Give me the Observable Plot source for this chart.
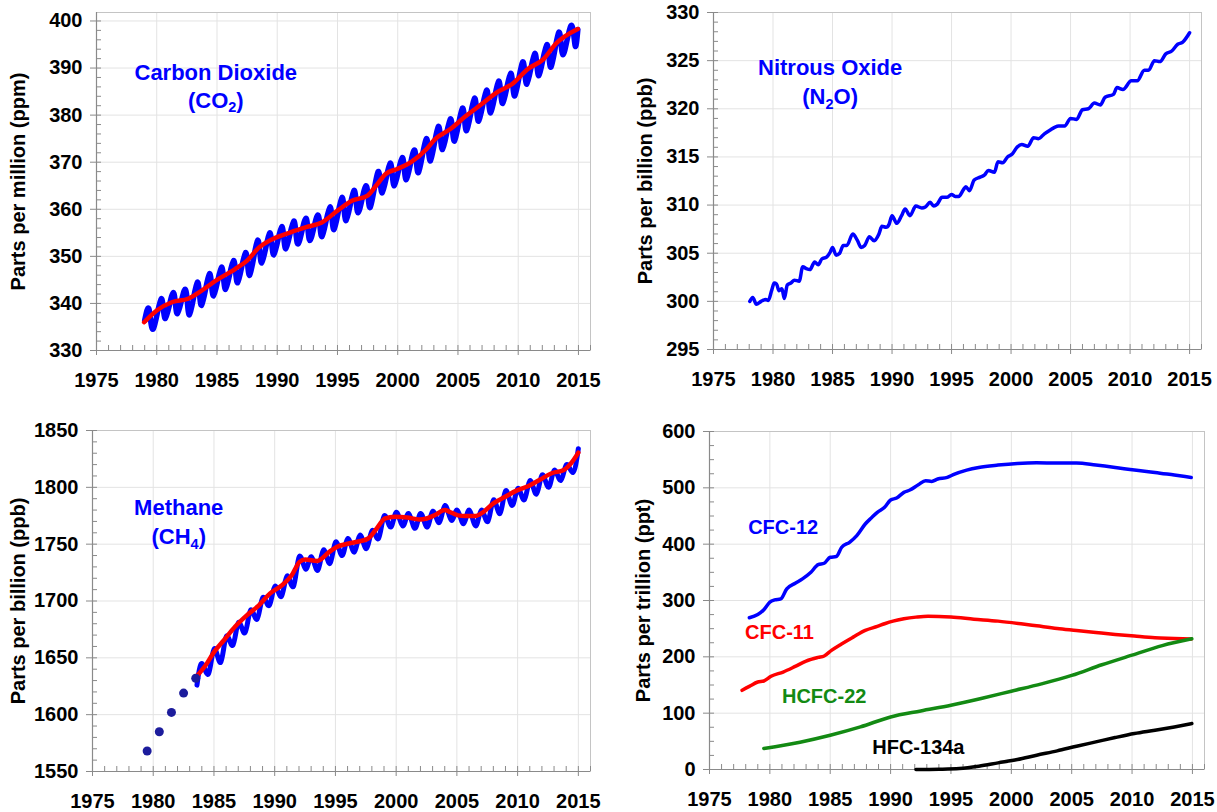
<!DOCTYPE html>
<html><head><meta charset="utf-8">
<script src="https://cdn.jsdelivr.net/npm/d3@7"></script>
<script src="https://cdn.jsdelivr.net/npm/@observablehq/plot@0.6"></script>
<style>
body{margin:0;background:#fff;}
#wrap{position:relative;width:1217px;height:812px;overflow:hidden;background:#fff;}
#wrap svg{position:absolute;overflow:visible;}
</style></head><body><div id="wrap"></div>
<script>
// ---------- shared axis ticks ----------
const yearTicks = [1975, 1980, 1985, 1990, 1995, 2000, 2005, 2010, 2015];
const yearMinor = [1975,1976,1977,1978,1979,1980,1981,1982,1983,1984,1985,1986,1987,1988,1989,1990,1991,1992,1993,1994,1995,1996,1997,1998,1999,2000,2001,2002,2003,2004,2005,2006,2007,2008,2009,2010,2011,2012,2013,2014,2015,2016];

// ---------- CO2 (ppm) ----------
const co2Ticks = [330, 340, 350, 360, 370, 380, 390, 400];
const co2Minor = [330,332,334,336,338,340,342,344,346,348,350,352,354,356,358,360,362,364,366,368,370,372,374,376,378,380,382,384,386,388,390,392,394,396,398,400];
const co2Years = [1979,1980,1981,1982,1983,1984,1985,1986,1987,1988,1989,1990,1991,1992,1993,1994,1995,1996,1997,1998,1999,2000,2001,2002,2003,2004,2005,2006,2007,2008,2009,2010,2011,2012,2013,2014];
const co2Peak = [338.7,341.0,342.3,343.0,344.5,346.3,347.7,349.1,350.8,353.4,355.0,356.3,357.5,358.1,358.8,360.5,362.5,364.0,365.0,368.0,369.8,371.0,372.6,375.0,377.6,379.2,381.5,383.6,385.3,387.2,388.9,391.3,393.1,395.0,397.6,399.0];
const co2Trough = [334.6,336.8,337.8,337.6,339.6,341.6,343.0,344.4,346.0,348.6,350.3,351.6,352.6,353.4,354.2,355.7,357.6,359.3,360.4,363.5,365.0,366.3,367.8,370.3,372.7,374.5,376.7,378.7,380.5,382.5,384.1,386.6,388.4,390.2,392.8,394.8];
const co2Start = [1979.0, 336.4];
const co2End = [2014.95, 398.2];
const co2TrendT = [1978.95,1980.0,1981.3,1982.6,1983.3,1985.0,1986.5,1987.5,1988.5,1989.4,1991.1,1992.4,1993.7,1995.0,1996.2,1997.5,1998.2,1999.0,2000.0,2001.1,2002.4,2003.1,2004.4,2005.7,2007.0,2008.2,2009.5,2010.8,2012.1,2013.1,2014.95];
const co2TrendV = [336.0,338.5,340.3,341.0,342.0,345.0,347.3,349.1,351.9,353.4,355.1,356.2,357.2,359.7,361.8,362.9,365.0,367.5,368.6,370.0,372.8,374.9,377.1,379.9,382.4,384.8,386.6,389.8,391.9,395.1,398.3];

// ---------- N2O (ppb) ----------
const n2oTicks = [295, 300, 305, 310, 315, 320, 325, 330];
const n2oMinor = [295,296,297,298,299,300,301,302,303,304,305,306,307,308,309,310,311,312,313,314,315,316,317,318,319,320,321,322,323,324,325,326,327,328,329,330];
const n2oT = [1978.05,1978.3,1978.6,1979.0,1979.4,1979.6,1979.9,1980.1,1980.3,1980.5,1980.75,1980.95,1981.2,1981.5,1981.8,1982.2,1982.5,1982.8,1983.1,1983.5,1983.8,1984.1,1984.5,1984.8,1985.0,1985.3,1985.6,1985.9,1986.2,1986.7,1987.1,1987.4,1987.7,1988.1,1988.5,1988.9,1989.15,1989.5,1989.75,1990.0,1990.4,1990.8,1991.1,1991.5,1992.0,1992.5,1992.8,1993.2,1993.5,1993.8,1994.2,1994.6,1995.0,1995.3,1995.6,1996.0,1996.2,1996.5,1996.9,1997.4,1997.75,1998.1,1998.6,1998.9,1999.3,1999.7,2000.1,2000.5,2000.9,2001.4,2001.9,2002.3,2002.8,2003.3,2003.7,2004.0,2004.5,2005.0,2005.5,2006.0,2006.5,2007.0,2007.5,2007.9,2008.6,2008.9,2009.4,2010.1,2010.6,2011.2,2011.55,2012.05,2012.5,2013.0,2013.5,2014.0,2014.4,2015.0];
const n2oV = [300.0,300.4,299.7,300.0,300.2,300.1,301.2,301.9,301.8,301.1,301.3,300.3,301.7,301.9,302.2,302.1,303.6,303.4,303.3,304.1,303.8,304.4,304.6,305.1,305.6,304.8,305.0,305.8,305.8,307.0,306.3,305.6,305.8,306.7,306.3,307.0,307.8,307.7,308.0,308.9,308.1,308.9,309.6,308.9,309.9,309.7,309.8,310.3,309.9,310.1,310.8,310.8,311.1,310.9,310.9,311.6,311.9,311.5,312.6,312.9,313.1,313.6,313.4,314.5,314.4,315.0,315.3,316.0,316.3,316.1,317.0,316.9,317.4,317.8,318.1,318.2,318.2,319.0,318.9,319.9,320.0,320.6,320.4,321.2,321.5,322.2,322.0,322.9,322.9,324.0,324.0,325.0,324.9,325.7,326.0,326.7,326.9,327.9];

// ---------- CH4 (ppb) ----------
const ch4Ticks = [1550, 1600, 1650, 1700, 1750, 1800, 1850];
const ch4Minor = [1550,1560,1570,1580,1590,1600,1610,1620,1630,1640,1650,1660,1670,1680,1690,1700,1710,1720,1730,1740,1750,1760,1770,1780,1790,1800,1810,1820,1830,1840,1850];
const ch4EarlyYears = [1979.5, 1980.5, 1981.5, 1982.5, 1983.5];
const ch4EarlyValues = [1568, 1585, 1602, 1619, 1632];
const ch4Years = [1984,1985,1986,1987,1988,1989,1990,1991,1992,1993,1994,1995,1996,1997,1998,1999,2000,2001,2002,2003,2004,2005,2006,2007,2008,2009,2010,2011,2012,2013,2014];
const ch4Max = [1645,1658,1669,1681,1692,1703,1713,1722,1739,1739,1745,1752,1755,1758,1762,1775,1778,1777,1777,1779,1784,1780,1780,1780,1789,1797,1799,1806,1811,1815,1820];
const ch4Min = [1636,1646,1661,1672,1684,1696,1704,1713,1728,1727,1733,1740,1743,1746,1755,1765,1766,1764,1765,1769,1771,1768,1766,1770,1777,1784,1789,1794,1800,1806,1813];
const ch4Start = [1983.6, 1626];
const ch4End = [2015.0, 1834];
const ch4TrendT = [1983.6,1984.3,1985.0,1985.8,1986.75,1987.7,1988.7,1989.6,1990.6,1991.4,1992.05,1992.5,1993.5,1994.5,1995.1,1996.1,1997.0,1997.7,1998.3,1999.1,1999.9,2000.9,2001.9,2002.5,2003.2,2004.0,2004.4,2005.1,2005.7,2006.5,2007.2,2008.0,2008.9,2009.9,2010.9,2011.8,2012.8,2013.8,2014.4,2015.0];
const ch4TrendV = [1634,1643.2,1655,1665.3,1677.6,1687.4,1696.2,1706.5,1713.8,1722.6,1734.4,1736.5,1735.3,1743.2,1747.6,1750.6,1752.6,1755,1762.4,1772.6,1774.1,1773.5,1771.8,1772.6,1775.6,1780,1778.5,1775.3,1774.7,1774.7,1778.5,1785.9,1791.2,1797.1,1801.2,1806.5,1812.4,1815.3,1821.2,1830.6];

// ---------- Halocarbons (ppt) ----------
const halTicks = [0, 100, 200, 300, 400, 500, 600];
const halMinor = [0,25,50,75,100,125,150,175,200,225,250,275,300,325,350,375,400,425,450,475,500,525,550,575,600];
const cfc12T = [1978.3,1979.0,1979.5,1980.0,1980.4,1980.9,1981.4,1982.1,1982.7,1983.4,1984.0,1984.5,1985.0,1985.5,1985.95,1986.6,1987.2,1987.9,1988.4,1988.9,1989.5,1990.0,1990.5,1991.1,1991.6,1992.3,1992.9,1993.4,1993.9,1994.7,1995.3,1996.3,1997.3,1998.9,2000.5,2002.1,2003.8,2005.4,2007.0,2008.6,2010.2,2011.9,2013.5,2014.9];
const cfc12V = [269.3,275,283.5,297,301,303,320.7,330.7,338.4,350.2,363.8,366.1,376.8,378,394.5,403.3,415.2,435.8,446.5,456.5,465.4,478.4,481.9,491.9,496.1,505.5,512.6,511.4,515.6,518.5,524.4,531.5,536.2,540.4,543.3,544.5,543.9,543.9,540.4,536.2,531.5,527.4,522.6,518.5];
const cfc11T = [1977.7,1978.3,1979.0,1979.5,1980.1,1981.1,1982.1,1983.0,1984.0,1984.5,1985.1,1985.9,1986.9,1987.9,1988.9,1989.5,1990.2,1991.1,1992.1,1993.1,1994.0,1995.0,1996.9,1998.9,2000.8,2002.1,2003.8,2005.4,2007.0,2008.6,2010.2,2011.9,2013.5,2014.9];
const cfc11V = [140.6,147.6,155.3,157.1,165.4,173,183,192.5,199.0,201.5,211.5,222.5,235,246.9,254,258.7,263.4,267.5,270.5,272.2,271.7,270.5,266.9,263.4,258.7,255.1,250.4,246.9,243.3,239.8,236.8,233.9,232.7,231.5];
const hcfc22T = [1979.5,1982.5,1985.0,1987.5,1990.0,1992.5,1995.0,1997.5,2000.0,2002.5,2005.0,2007.5,2010.0,2012.5,2014.95];
const hcfc22V = [37.2,48.5,60.8,75.6,93.3,104,114,126,139,152,167,186,203,220,232];
const hfc134aT = [1992.1,1994.0,1995.7,1997.3,1998.9,2000.5,2002.1,2003.8,2005.4,2007.0,2008.6,2010.2,2011.9,2013.5,2014.95];
const hfc134aV = [0,0.5,1.8,5.9,11.8,17.7,25.4,33.1,41.3,49,56.7,63.8,69.7,75.6,81.5];

// ---------- annotation text ----------
const co2Label = [{x: 1984.9, y: 389.0, t: "Carbon Dioxide"}, {x: 1984.9, y: 383.1, t: "(CO₂)"}];
const n2oLabel = [{x: 1984.8, y: 324.2, t: "Nitrous Oxide"}, {x: 1984.8, y: 321.2, t: "(N₂O)"}];
const ch4Label = [{x: 1982.1, y: 1782, t: "Methane"}, {x: 1982.1, y: 1756, t: "(CH₄)"}];
const halLabel = [
  {x: 1981.1, y: 429, t: "CFC-12", c: "#0000ff"},
  {x: 1980.8, y: 243, t: "CFC-11", c: "#ff0000"},
  {x: 1984.5, y: 130, t: "HCFC-22", c: "#138a13"},
  {x: 1992.3, y: 38, t: "HFC-134a", c: "#000000"}
];

// ---------- helpers ----------
const FONT = '"Liberation Sans", Arial, Helvetica, sans-serif';
const zip = (T, V) => T.map((t, i) => ({t, v: V[i]}));
function seasonal(start, years, hi, lo, hiOff, loOff, end) {
  const rows = [{t: start[0], v: start[1]}];
  years.forEach((y, i) => {
    const a = {t: y + hiOff, v: hi[i]}, b = {t: y + loOff, v: lo[i]};
    if (hiOff < loOff) rows.push(a, b); else rows.push(b, a);
  });
  rows.push({t: end[0], v: end[1]});
  return rows;
}

const co2Season = seasonal(co2Start, co2Years, co2Peak, co2Trough, 0.37, 0.72, co2End);
const ch4Season = seasonal(ch4Start, ch4Years, ch4Max, ch4Min, 0.02, 0.55, ch4End);

const wrap = document.getElementById("wrap");
const SUB = {"₂": "2", "₄": "4"};

// turn Unicode subscript digits into real SVG subscripts (tspans)
function fixSubscripts(svg) {
  const ns = "http://www.w3.org/2000/svg";
  svg.querySelectorAll("text").forEach(el => {
    const s = el.textContent;
    if (!/[₂₄]/.test(s) || el.children.length) return;
    el.textContent = "";
    let buf = "", pendingDy = null;
    const flush = () => {
      if (!buf) return;
      const t = document.createElementNS(ns, "tspan");
      t.textContent = buf;
      if (pendingDy) { t.setAttribute("dy", pendingDy); pendingDy = null; }
      el.appendChild(t);
      buf = "";
    };
    for (const ch of s) {
      if (SUB[ch]) {
        flush();
        const t = document.createElementNS(ns, "tspan");
        t.textContent = SUB[ch];
        t.setAttribute("font-size", "0.66em");
        t.setAttribute("dy", "0.3em");
        el.appendChild(t);
        pendingDy = "-0.2em";
      } else buf += ch;
    }
    flush();
  });
}

function panel(o) {
  const axisGray = "#8a8a8a";
  const svg = Plot.plot({
    width: o.width, height: o.height,
    marginLeft: o.mL, marginRight: o.mR, marginTop: o.mT, marginBottom: o.mB,
    x: {domain: [1975, 2016]},
    y: {domain: o.yDomain},
    style: {fontFamily: FONT, fontSize: "20px", color: "#000", background: "transparent", overflow: "visible"},
    marks: [
      Plot.gridX(yearTicks, {stroke: "#e3e3e3", strokeOpacity: 1}),
      Plot.gridY(o.yTicks, {stroke: "#e3e3e3", strokeOpacity: 1}),
      Plot.frame({stroke: "#c4c4c4"}),
      Plot.axisX(yearMinor, {tickSize: -5, tickFormat: () => "", stroke: axisGray, label: null}),
      Plot.axisY(o.yMinor, {tickSize: -5, tickFormat: () => "", stroke: axisGray, label: null}),
      Plot.axisX(yearTicks, {tickSize: 5, tickPadding: 17, tickFormat: d => String(d), fontWeight: "bold", fontSize: 20, stroke: axisGray, fill: "#000", label: null}),
      Plot.axisY(o.yTicks, {tickSize: 6, tickPadding: 8, tickFormat: d => String(d), fontWeight: "bold", fontSize: 20, stroke: axisGray, fill: "#000", label: null}),
      Plot.ruleX([1975], {stroke: axisGray, strokeWidth: 1.2}),
      Plot.ruleY([o.yDomain[0]], {stroke: axisGray, strokeWidth: 1.2}),
      Plot.text([o.yLabel], {text: d => d, frameAnchor: "left", textAnchor: "middle", lineAnchor: "middle", rotate: -90, dx: o.labelDx, fontWeight: "bold", fontSize: 20, fill: "#000"}),
      ...o.marks
    ]
  });
  // drop the empty labels of the minor-tick axes
  svg.querySelectorAll("text").forEach(t => { if (t.textContent === "") t.remove(); });
  fixSubscripts(svg);
  svg.style.left = o.left + "px";
  svg.style.top = o.top + "px";
  wrap.appendChild(svg);
}

const titleText = (rows, color) => Plot.text(rows, {x: "x", y: "y", text: "t", fill: color, fontWeight: "bold", fontSize: 22});

// Panel 1: CO2
panel({
  left: 0, top: 0, width: 607, height: 405, mL: 96, mR: 17, mT: 12, mB: 55,
  yDomain: [330, 401.8], yTicks: co2Ticks, yMinor: co2Minor,
  yLabel: "Parts per million (ppm)", labelDx: -77.5,
  marks: [
    Plot.line(co2Season, {x: "t", y: "v", stroke: "#0000ff", strokeWidth: 5.5, curve: "natural"}),
    Plot.line(zip(co2TrendT, co2TrendV), {x: "t", y: "v", stroke: "#ff0000", strokeWidth: 4.5, curve: "monotone-x"}),
    titleText(co2Label, "#0000ff")
  ]
});

// Panel 2: N2O
panel({
  left: 607, top: 0, width: 610, height: 405, mL: 106, mR: 16, mT: 12, mB: 56,
  yDomain: [295, 330], yTicks: n2oTicks, yMinor: n2oMinor,
  yLabel: "Parts per billion (ppb)", labelDx: -68,
  marks: [
    Plot.line(zip(n2oT, n2oV), {x: "t", y: "v", stroke: "#0000ff", strokeWidth: 3.5, curve: "monotone-x"}),
    titleText(n2oLabel, "#0000ff")
  ]
});

// Panel 3: CH4
panel({
  left: 0, top: 405, width: 607, height: 407, mL: 92, mR: 17, mT: 25, mB: 41,
  yDomain: [1550, 1850], yTicks: ch4Ticks, yMinor: ch4Minor,
  yLabel: "Parts per billion (ppb)", labelDx: -74,
  marks: [
    Plot.line(ch4Season, {x: "t", y: "v", stroke: "#0000ff", strokeWidth: 5, curve: "natural"}),
    Plot.line(zip(ch4TrendT, ch4TrendV), {x: "t", y: "v", stroke: "#ff0000", strokeWidth: 4.5, curve: "monotone-x"}),
    Plot.dot(zip(ch4EarlyYears, ch4EarlyValues), {x: "t", y: "v", r: 4.5, fill: "#1c1c9c", stroke: "none"}),
    titleText(ch4Label, "#0000ff")
  ]
});

// Panel 4: halocarbons
panel({
  left: 607, top: 405, width: 610, height: 407, mL: 102, mR: 13, mT: 26, mB: 43,
  yDomain: [0, 600], yTicks: halTicks, yMinor: halMinor,
  yLabel: "Parts per trillion (ppt)", labelDx: -66,
  marks: [
    Plot.line(zip(cfc12T, cfc12V), {x: "t", y: "v", stroke: "#0000ff", strokeWidth: 3.5, curve: "monotone-x"}),
    Plot.line(zip(cfc11T, cfc11V), {x: "t", y: "v", stroke: "#ff0000", strokeWidth: 3.5, curve: "monotone-x"}),
    Plot.line(zip(hcfc22T, hcfc22V), {x: "t", y: "v", stroke: "#138a13", strokeWidth: 3.5, curve: "monotone-x"}),
    Plot.line(zip(hfc134aT, hfc134aV), {x: "t", y: "v", stroke: "#000000", strokeWidth: 3.5, curve: "monotone-x"}),
    Plot.text(halLabel, {x: "x", y: "y", text: "t", fill: "c", fontWeight: "bold", fontSize: 20})
  ]
});
</script></body></html>
